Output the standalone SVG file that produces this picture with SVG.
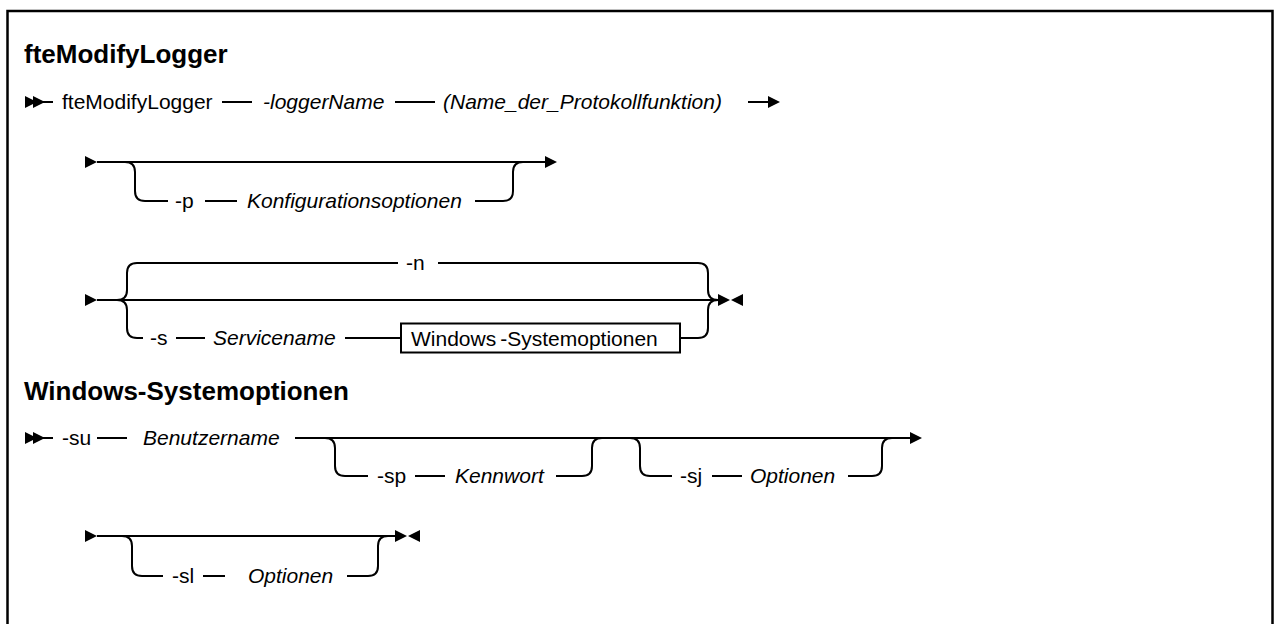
<svg xmlns="http://www.w3.org/2000/svg" xmlns:xlink="http://www.w3.org/1999/xlink" width="1274" height="624" viewBox="0 0 1274 624">
  <style>
    .t { font-family: "Liberation Sans", Arial, sans-serif; font-size: 21px; fill: #000; }
    .i { font-style: italic; }
    .h { font-family: "Liberation Sans", Arial, sans-serif; font-size: 26px; font-weight: bold; fill: #000; }
    .ln { fill: none; stroke: #000; stroke-width: 2; }
    .box { fill: #fff; stroke: #000; stroke-width: 2; }
  </style>
  <defs>
    <polygon id="tr" points="0,-6 12,0 0,6" fill="#000"/>
    <polygon id="tl" points="12,-6 0,0 12,6" fill="#000"/>
  </defs>

  <rect x="7.5" y="11" width="1265" height="700" fill="#fff" stroke="#000" stroke-width="2.5"/>

  <!-- fteModifyLogger syntax -->
  <g id="title-main"><text class="h" x="24" y="63">fteModifyLogger</text></g>

  <g id="connectors">
    <!-- row 1 -->
    <path class="ln" d="M43,102 H53 M222,102 H252 M395,102 H435 M748,102 H770"/>
    <!-- row 2 -->
    <path class="ln" d="M97,162 H547"/>
    <path class="ln" d="M125,162 Q135,162 135,172 V191 Q135,201 145,201 H168 M205,201 H237 M475,201 H503 Q513,201 513,191 V172 Q513,162 523,162"/>
    <!-- row 3 -->
    <path class="ln" d="M97,300 H725"/>
    <path class="ln" d="M117,300 Q127,300 127,290 V273 Q127,263 137,263 H398 M438,263 H698 Q708,263 708,273 V290 Q708,300 718,300"/>
    <path class="ln" d="M117,300 Q127,300 127,310 V328 Q127,338 137,338 H143 M176,338 H205 M345,338 H401 M680,338 H698 Q708,338 708,328 V310 Q708,300 718,300"/>
    <!-- row su -->
    <path class="ln" d="M43,438 H53 M97,438 H127 M295,438 H912"/>
    <path class="ln" d="M325,438 Q335,438 335,448 V466 Q335,476 345,476 H368 M415,476 H445 M556,476 H582 Q592,476 592,466 V448 Q592,438 602,438"/>
    <path class="ln" d="M630,438 Q640,438 640,448 V466 Q640,476 650,476 H672 M712,476 H742 M848,476 H872 Q882,476 882,466 V448 Q882,438 892,438"/>
    <!-- row sl -->
    <path class="ln" d="M97,536 H395"/>
    <path class="ln" d="M122,536 Q132,536 132,546 V566 Q132,576 142,576 H163 M203,576 H225 M347,576 H368 Q378,576 378,566 V546 Q378,536 388,536"/>

    <!-- arrowheads -->
    <use xlink:href="#tr" x="25" y="102"/><use xlink:href="#tr" x="33" y="102"/>
    <use xlink:href="#tr" x="768" y="102"/>
    <use xlink:href="#tr" x="85" y="162"/><use xlink:href="#tr" x="545" y="162"/>
    <use xlink:href="#tr" x="85" y="300"/><use xlink:href="#tr" x="718" y="300"/><use xlink:href="#tl" x="731" y="300"/>
    <use xlink:href="#tr" x="25" y="438"/><use xlink:href="#tr" x="33" y="438"/>
    <use xlink:href="#tr" x="910" y="438"/>
    <use xlink:href="#tr" x="85" y="536"/><use xlink:href="#tr" x="395" y="536"/><use xlink:href="#tl" x="408" y="536"/>
  </g>

  <g id="cmd"><text class="t" x="62" y="109">fteModifyLogger</text></g>
  <g id="loggerName"><text class="t i" x="263" y="109">-loggerName</text></g>
  <g id="name-arg"><text class="t i" x="443" y="109">(Name_der_Protokollfunktion)</text></g>

  <g id="opt-p"><text class="t" x="175" y="208">-p</text></g>
  <g id="arg-p"><text class="t i" x="247" y="208">Konfigurationsoptionen</text></g>

  <g id="opt-n"><text class="t" x="406" y="270">-n</text></g>
  <g id="opt-s"><text class="t" x="150" y="345">-s</text></g>
  <g id="arg-s"><text class="t i" x="213" y="345">Servicename</text></g>
  <g id="ref-win">
    <rect class="box" x="401" y="323.5" width="279" height="29"/>
    <text class="t" x="411" y="346">Windows<tspan dx="4">-Systemoptionen</tspan></text>
  </g>

  <!-- Windows-Systemoptionen fragment -->
  <g id="title-win"><text class="h" x="24" y="400">Windows-Systemoptionen</text></g>

  <g id="opt-su"><text class="t" x="62" y="445">-su</text></g>
  <g id="arg-su"><text class="t i" x="143" y="445">Benutzername</text></g>
  <g id="opt-sp"><text class="t" x="377" y="483">-sp</text></g>
  <g id="arg-sp"><text class="t i" x="455" y="483">Kennwort</text></g>
  <g id="opt-sj"><text class="t" x="680" y="483">-sj</text></g>
  <g id="arg-sj"><text class="t i" x="750" y="483">Optionen</text></g>
  <g id="opt-sl"><text class="t" x="172" y="583">-sl</text></g>
  <g id="arg-sl"><text class="t i" x="248" y="583">Optionen</text></g>
</svg>
